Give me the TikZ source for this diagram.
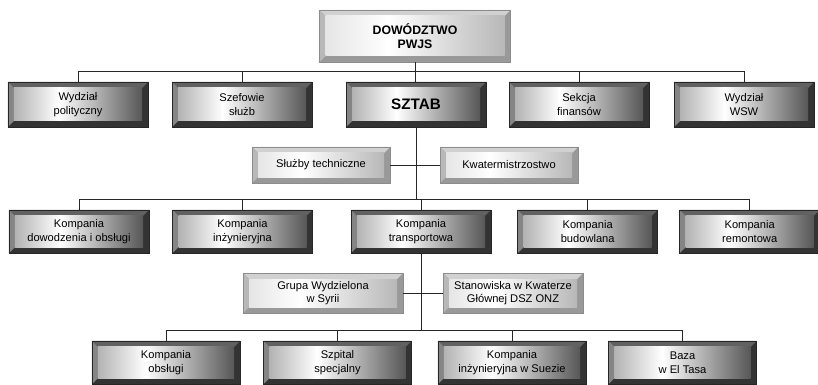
\documentclass[tikz,border=0pt]{standalone}
\usepackage{fontspec}
\setmainfont{Liberation Sans}
\usetikzlibrary{positioning, calc}
\newcommand{\bevw}{0.18}
\tikzset{
	bevel/.style n args={4}{
		path picture={
			\coordinate (bvA) at ([shift={(\bevw,\bevw)}]path picture bounding box.south west);
			\coordinate (bvB) at ([shift={(-\bevw,-\bevw)}]path picture bounding box.north east);
			\coordinate (bvM) at ($(bvA)!0.35!(bvB)$);
			\fill[#1] (path picture bounding box.north west) -- (path picture bounding box.north east)
				-- (bvB) -- (bvA |- bvB) -- cycle;
			\fill[#2] (path picture bounding box.north west) -- (bvA |- bvB)
				-- (bvA) -- (path picture bounding box.south west) -- cycle;
			\shade[left color=#3, right color=white] (bvA) rectangle (bvM |- bvB);
			\shade[left color=white, right color=#4] ([xshift=-0.2pt]bvM |- bvA) rectangle (bvB);
		},
	},
	unit/.style={
		rectangle,
		draw=black!85,
		fill=black!80,
		bevel={black!62}{black!48}{black!30}{black!66},
		text centered,
		align=center,
		inner sep=0pt,
		minimum width=4.2cm,
		minimum height=1.3cm,
		font=\fontsize{9.5}{11.5}\selectfont,
	},
	staff/.style={
		rectangle,
		draw=black!45,
		fill=black!40,
		bevel={black!18}{black!28}{black!10}{black!28},
		text centered,
		align=center,
		inner sep=0pt,
		minimum width=4.2cm,
		minimum height=1.2cm,
		font=\fontsize{9.5}{11.5}\selectfont,
	},
	link/.style={
		draw=black!85,
		line width=0.6pt,
	},
}
\begin{document}
\begin{tikzpicture}[node distance=2cm]
		\useasboundingbox (0,0) rectangle (24.54,-11.55);
		
		\node [staff, minimum width=5.73cm, minimum height=1.56cm, font=\bfseries\fontsize{10.5}{12}\selectfont] (dow) at (12.45,-1.08) {DOWÓDZTWO\\PWJS};
		\node [unit, below of = dow, node distance=2.055cm, xshift=0.03cm, minimum height=1.35cm, font=\bfseries\fontsize{13}{15}\selectfont] (sztab) {SZTAB};
		\node [unit, left of = sztab, node distance=5.22cm, minimum height=1.35cm] (szef) {Szefowie\\służb};
		\node [unit, left of = szef, node distance=4.92cm, minimum height=1.35cm] (wpol) {Wydział\\polityczny};
		\node [unit, right of = sztab, node distance=4.89cm, minimum height=1.35cm] (sekcja) {Sekcja\\finansów};
		\node [unit, right of = sekcja, node distance=4.95cm, minimum height=1.35cm] (wsw) {Wydział\\WSW};
		\node [staff, below of = sztab, node distance=1.815cm, xshift=-2.85cm, minimum width=4.14cm, minimum height=1.08cm] (sltech) {Służby techniczne};
		\node [staff, below of = sztab, node distance=1.815cm, xshift=2.79cm, minimum width=4.14cm, minimum height=1.08cm] (kwater) {Kwatermistrzostwo};
		\node [unit, below of = sztab, node distance=3.81cm, xshift=0.15cm] (ktrans) {Kompania\\transportowa};
		\node [unit, left of = ktrans, node distance=5.355cm] (kinz) {Kompania\\inżynieryjna};
		\node [unit, left of = kinz, node distance=4.905cm] (kdow) {Kompania\\dowodzenia i obsługi};
		\node [unit, right of = ktrans, node distance=5cm] (kbud) {Kompania\\budowlana};
		\node [unit, right of = kbud, node distance=4.86cm] (krem) {Kompania\\remontowa};
		\node [staff, below of = ktrans, node distance=1.845cm, xshift=-2.94cm, minimum width=4.8cm] (grupa) {Grupa Wydzielona\\w Syrii};
		\node [staff, below of = ktrans, node distance=1.845cm, xshift=2.76cm] (stan) {Stanowiska w Kwaterze\\Głównej DSZ ONZ};
		\node [unit, below of = ktrans, node distance=3.93cm, xshift=-2.505cm, minimum width=4.45cm] (szpital) {Szpital\\specjalny};
		\node [unit, left of = szpital, node distance=5.145cm, minimum width=4.45cm] (kobs) {Kompania\\obsługi};
		\node [unit, right of = szpital, node distance=5.235cm, minimum width=4.45cm] (ksuez) {Kompania\\inżynieryjna w Suezie};
		\node [unit, right of = ksuez, node distance=5.115cm, minimum width=4.45cm] (baza) {Baza\\w El Tasa};
		
		\draw [link] (dow.south) -- (dow.south |- sztab.north);
		\draw [link] (wpol.north) -- ++(0,0.3) -| (wsw.north);
		\draw [link] (szef.north) -- ++(0,0.3);
		\draw [link] (sekcja.north) -- ++(0,0.3);
		\draw [link] (sztab.south) -- ([yshift=0.3cm]sztab.south |- ktrans.north);
		\draw [link] (sltech) -- (kwater);
		\draw [link] (kdow.north) -- ++(0,0.3) -| (krem.north);
		\draw [link] (kinz.north) -- ++(0,0.3);
		\draw [link] (ktrans.north) -- ++(0,0.3);
		\draw [link] (kbud.north) -- ++(0,0.3);
		\draw [link] (ktrans.south) -- ([yshift=0.3cm]ktrans.south |- kobs.north);
		\draw [link] (grupa) -- (stan);
		\draw [link] (kobs.north) -- ++(0,0.3) -| (baza.north);
		\draw [link] (szpital.north) -- ++(0,0.3);
		\draw [link] (ksuez.north) -- ++(0,0.3);
	\end{tikzpicture}
\end{document}
